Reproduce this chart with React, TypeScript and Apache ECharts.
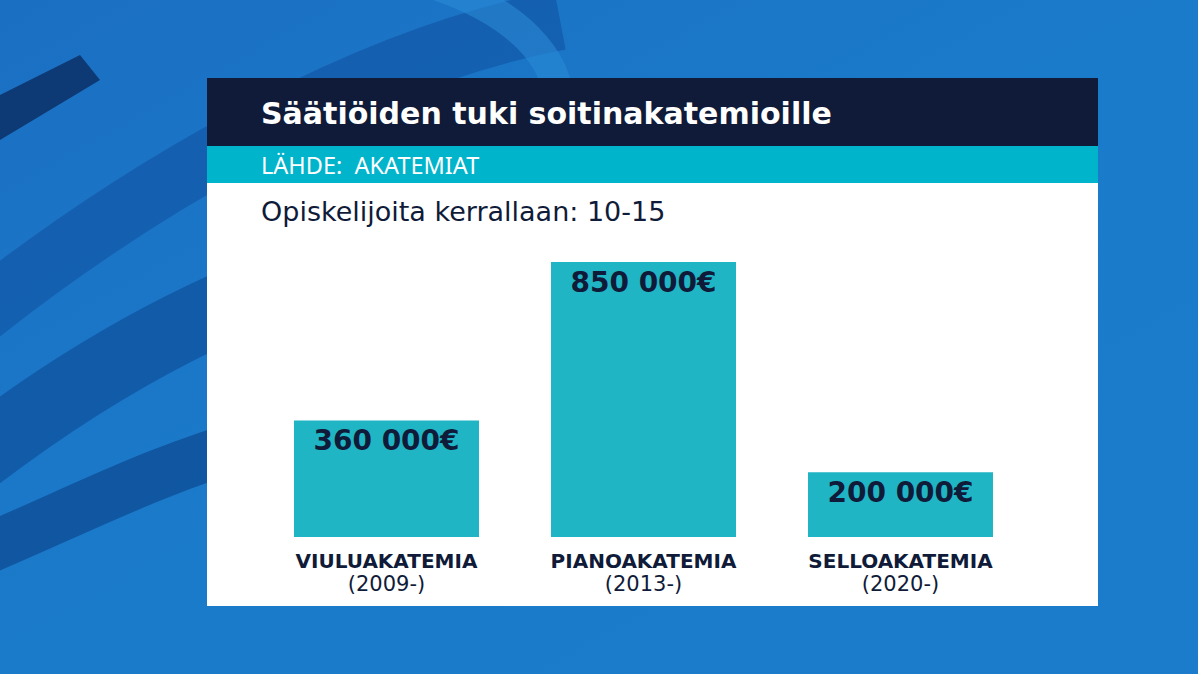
import React, { useEffect, useRef } from "react";
import * as echarts from "echarts";

const categories = ["VIULUAKATEMIA", "PIANOAKATEMIA", "SELLOAKATEMIA"];
const years = ["(2009-)", "(2013-)", "(2020-)"];
const values = [360000, 850000, 200000];
const valueLabels = ["360 000€", "850 000€", "200 000€"];
const title = "Säätiöiden tuki soitinakatemioille";
const source = "LÄHDE:  AKATEMIAT";
const note = "Opiskelijoita kerrallaan: 10-15";

const NAVY = "#0f1b38";
const TEAL = "#00b4cb";
const BAR = "#20b5c5";
const FONT = "'Noto Sans', sans-serif";
const WIDE = "'DejaVu Sans', sans-serif";

export default function App() {
  const ref = useRef<HTMLDivElement>(null);
  useEffect(() => {
    if (!ref.current) return;
    const chart = echarts.init(ref.current, undefined, { renderer: "svg" });
    chart.setOption({
      animation: false,
      backgroundColor: {
        type: "linear", x: 0, y: 0, x2: 1, y2: 1,
        colorStops: [
          { offset: 0, color: "#1b6fc2" },
          { offset: 0.5, color: "#1b7bcb" },
          { offset: 1, color: "#1a7ccb" },
        ],
      },
      graphic: [
        { type: "bezierCurve", z: -10, shape: { x1: -40, y1: 330, cpx1: 120, cpy1: 200, cpx2: 350, cpy2: 60, x2: 560, y2: 20 }, style: { stroke: "#0f4f9e", lineWidth: 60, fill: "none", opacity: 0.55 } },
        { type: "bezierCurve", z: -10, shape: { x1: -40, y1: 470, cpx1: 100, cpy1: 360, cpx2: 250, cpy2: 280, x2: 420, y2: 240 }, style: { stroke: "#0c4a95", lineWidth: 70, fill: "none", opacity: 0.6 } },
        { type: "bezierCurve", z: -10, shape: { x1: -40, y1: 560, cpx1: 60, cpy1: 520, cpx2: 150, cpy2: 470, x2: 260, y2: 440 }, style: { stroke: "#0a3f86", lineWidth: 50, fill: "none", opacity: 0.6 } },
        { type: "bezierCurve", z: -10, shape: { x1: 420, y1: -20, cpx1: 520, cpy1: 10, cpx2: 560, cpy2: 60, x2: 560, y2: 110 }, style: { stroke: "#2a8ad6", lineWidth: 30, fill: "none", opacity: 0.6 } },
        { type: "polygon", z: -10, shape: { points: [[0, 95], [80, 55], [100, 80], [0, 140]] }, style: { fill: "#0b2f66", opacity: 0.85 } },
        { type: "rect", z: -5, shape: { x: 207, y: 78, width: 891, height: 528 }, style: { fill: "#ffffff" } },
        { type: "rect", z: -5, shape: { x: 207, y: 78, width: 891, height: 68 }, style: { fill: NAVY } },
        { type: "rect", z: -5, shape: { x: 207, y: 146, width: 891, height: 37 }, style: { fill: TEAL } },
        { type: "text", z: 2, x: 261, y: 113, style: { text: title, fill: "#ffffff", font: `bold 30px ${WIDE}`, textVerticalAlign: "middle" } },
        { type: "text", z: 2, x: 261, y: 165, style: { text: source, fill: "#ffffff", font: `23.5px ${FONT}`, textVerticalAlign: "middle" } },
        { type: "text", z: 2, x: 261, y: 211, style: { text: note, fill: NAVY, font: `27px ${WIDE}`, textVerticalAlign: "middle" } },
      ],
      grid: { left: 258, right: 1198 - 1029, top: 213.5, bottom: 137 },
      xAxis: {
        type: "category",
        data: categories,
        z: 10,
        axisLine: { show: false },
        axisTick: { show: false },
        axisLabel: {
          margin: 12,
          interval: 0,
          formatter: (v: string, i: number) => `{a|${v}}\n{b|${years[i]}}`,
          rich: {
            a: { fontFamily: WIDE, fontWeight: "bold", fontSize: 20, color: NAVY, lineHeight: 24 },
            b: { fontFamily: WIDE, fontSize: 21, color: NAVY, lineHeight: 22 },
          },
        },
      },
      yAxis: { type: "value", min: 0, max: 1000000, show: false, splitLine: { show: false } },
      series: [
        {
          type: "bar",
          z: 3,
          data: values,
          barWidth: 185,
          itemStyle: { color: BAR },
          label: {
            show: true,
            position: "insideTop",
            distance: 6,
            formatter: (p: any) => valueLabels[p.dataIndex],
            fontFamily: WIDE,
            fontWeight: "bold",
            fontSize: 28,
            color: NAVY,
          },
        },
      ],
    });
    return () => chart.dispose();
  }, []);
  return <div ref={ref} style={{ position: "fixed", left: 0, top: 0, width: 1198, height: 674 }} />;
}
